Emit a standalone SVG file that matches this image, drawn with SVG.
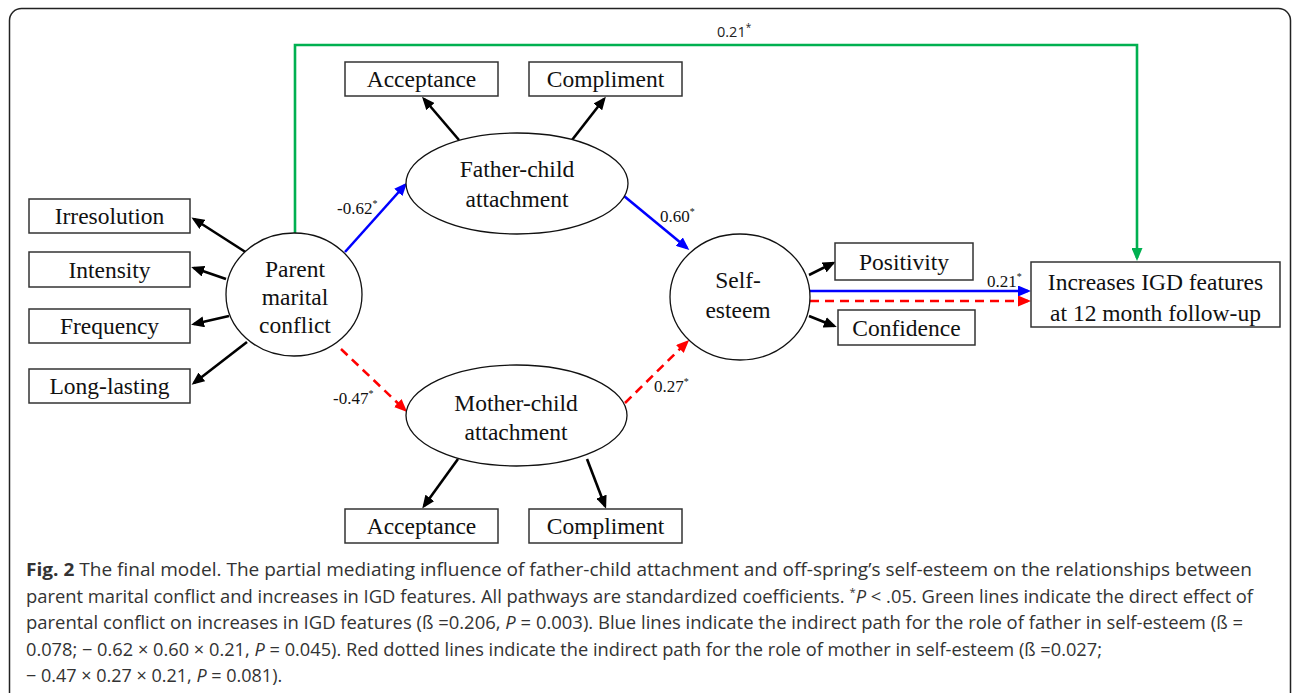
<svg xmlns="http://www.w3.org/2000/svg" width="1292" height="693" viewBox="0 0 1292 693">
<style>
.box{fill:#fff;stroke:#333;stroke-width:1.5}
.ell{fill:#fff;stroke:#111;stroke-width:1.3}
.lbl{font-family:"Liberation Serif","Times New Roman",serif;font-size:23.5px;fill:#111;text-anchor:middle}
.coef{font-family:"Liberation Serif","Times New Roman",serif;font-size:17px;fill:#111}
.sup{font-size:10px}
.k{stroke:#000;stroke-width:2.6;fill:none;marker-end:url(#ak)}
.b{stroke:#0000ff;stroke-width:2.6;fill:none;marker-end:url(#ab)}
.r{stroke:#ff0000;stroke-width:2.6;fill:none;stroke-dasharray:9 6;marker-end:url(#ar)}
.g{stroke:#00b050;stroke-width:2.6;fill:none;marker-end:url(#ag)}
.cap{font-family:"Open Sans","Noto Sans",sans-serif;font-size:18px;fill:#333}
</style>
<defs>
<marker id="ak" markerUnits="userSpaceOnUse" markerWidth="13" markerHeight="11" refX="10" refY="5.5" orient="auto"><path d="M0,0 L13,5.5 L0,11 z" fill="#000"/></marker>
<marker id="ab" markerUnits="userSpaceOnUse" markerWidth="13" markerHeight="11" refX="10" refY="5.5" orient="auto"><path d="M0,0 L13,5.5 L0,11 z" fill="#0000ff"/></marker>
<marker id="ar" markerUnits="userSpaceOnUse" markerWidth="13" markerHeight="11" refX="10" refY="5.5" orient="auto"><path d="M0,0 L13,5.5 L0,11 z" fill="#ff0000"/></marker>
<marker id="ag" markerUnits="userSpaceOnUse" markerWidth="13" markerHeight="11" refX="10" refY="5.5" orient="auto"><path d="M0,0 L13,5.5 L0,11 z" fill="#00b050"/></marker>
</defs>
<rect x="0" y="0" width="1292" height="693" fill="#fff"/>
<rect x="9.5" y="8.5" width="1281" height="720" rx="12" fill="none" stroke="#222" stroke-width="1.5"/>

<g id="connectors">
<path class="g" d="M295,233 V45 H1137 V258"/>
<line class="k" x1="459" y1="140" x2="424" y2="99"/>
<line class="k" x1="572" y1="140" x2="604" y2="99"/>
<line class="k" x1="247" y1="253" x2="194" y2="219"/>
<line class="k" x1="226" y1="279" x2="194" y2="268"/>
<line class="k" x1="229" y1="316" x2="194" y2="324"/>
<line class="k" x1="247" y1="342" x2="194" y2="383"/>
<line class="k" x1="458" y1="459" x2="424" y2="506"/>
<line class="k" x1="587" y1="459" x2="605" y2="506"/>
<line class="k" x1="809" y1="275" x2="833" y2="263"/>
<line class="k" x1="809" y1="316" x2="834" y2="326"/>
<line class="b" x1="345" y1="252" x2="405" y2="185"/>
<line class="b" x1="624" y1="196" x2="687" y2="248"/>
<line class="b" x1="810" y1="291" x2="1028" y2="291"/>
<line class="r" x1="341" y1="349" x2="405" y2="410"/>
<line class="r" x1="625" y1="403" x2="687" y2="342"/>
<line class="r" x1="810" y1="301" x2="1028" y2="301"/>
<text x="717" y="37" font-family="'Open Sans','Noto Sans',sans-serif" font-size="14.5" fill="#222">0.21<tspan class="sup" dy="-6" font-size="9">*</tspan></text>
<text class="coef" x="337" y="214">-0.62<tspan class="sup" dy="-7">*</tspan></text>
<text class="coef" x="660" y="222">0.60<tspan class="sup" dy="-7">*</tspan></text>
<text class="coef" x="333" y="404">-0.47<tspan class="sup" dy="-7">*</tspan></text>
<text class="coef" x="654" y="392">0.27<tspan class="sup" dy="-7">*</tspan></text>
<text class="coef" x="987" y="287">0.21<tspan class="sup" dy="-7">*</tspan></text>
</g>

<g id="acceptance-top"><rect class="box" x="345" y="62" width="153" height="34"/><text class="lbl" x="421.5" y="87">Acceptance</text></g>
<g id="compliment-top"><rect class="box" x="529" y="62" width="153" height="34"/><text class="lbl" x="605.5" y="87">Compliment</text></g>
<g id="father"><ellipse class="ell" cx="517" cy="183.5" rx="111" ry="50.5"/><text class="lbl" x="517" y="177">Father-child</text><text class="lbl" x="517" y="207">attachment</text></g>
<g id="irresolution"><rect class="box" x="29" y="199" width="161" height="34"/><text class="lbl" x="109.5" y="224">Irresolution</text></g>
<g id="intensity"><rect class="box" x="29" y="252" width="161" height="35"/><text class="lbl" x="109.5" y="277.5">Intensity</text></g>
<g id="frequency"><rect class="box" x="29" y="309" width="161" height="34"/><text class="lbl" x="109.5" y="334">Frequency</text></g>
<g id="long-lasting"><rect class="box" x="29" y="369" width="161" height="34"/><text class="lbl" x="109.5" y="394">Long-lasting</text></g>
<g id="parent"><ellipse class="ell" cx="294" cy="294.5" rx="68" ry="61.5"/><text class="lbl" x="295" y="277">Parent</text><text class="lbl" x="295" y="305">marital</text><text class="lbl" x="295" y="333">conflict</text></g>
<g id="mother"><ellipse class="ell" cx="516.5" cy="415.5" rx="110.5" ry="50.5"/><text class="lbl" x="516" y="411">Mother-child</text><text class="lbl" x="516" y="440">attachment</text></g>
<g id="acceptance-bottom"><rect class="box" x="345" y="509" width="153" height="34"/><text class="lbl" x="421.5" y="534">Acceptance</text></g>
<g id="compliment-bottom"><rect class="box" x="529" y="509" width="153" height="34"/><text class="lbl" x="605.5" y="534">Compliment</text></g>
<g id="self-esteem"><ellipse class="ell" cx="740" cy="297" rx="70" ry="63"/><text class="lbl" x="738" y="288">Self-</text><text class="lbl" x="738" y="318">esteem</text></g>
<g id="positivity"><rect class="box" x="835" y="243" width="138" height="37"/><text class="lbl" x="904" y="269.5">Positivity</text></g>
<g id="confidence"><rect class="box" x="838" y="310" width="137" height="35"/><text class="lbl" x="906.5" y="335.5">Confidence</text></g>
<g id="igd"><rect class="box" x="1031" y="262" width="249" height="65"/><text class="lbl" x="1155.5" y="290">Increases IGD features</text><text class="lbl" x="1155.5" y="321">at 12 month follow-up</text></g>

<g id="caption">
<text class="cap" x="26" y="576" textLength="1226" lengthAdjust="spacingAndGlyphs"><tspan font-weight="bold">Fig. 2</tspan> The final model. The partial mediating influence of father-child attachment and off-spring’s self-esteem on the relationships between</text>
<text class="cap" x="26" y="602.5" textLength="1227" lengthAdjust="spacingAndGlyphs">parent marital conflict and increases in IGD features. All pathways are standardized coefficients. <tspan font-size="11" dy="-7">*</tspan><tspan dy="7" font-style="italic">P</tspan> &lt; .05. Green lines indicate the direct effect of</text>
<text class="cap" x="26" y="629" textLength="1217" lengthAdjust="spacingAndGlyphs">parental conflict on increases in IGD features (ß =0.206, <tspan font-style="italic">P</tspan> = 0.003). Blue lines indicate the indirect path for the role of father in self-esteem (ß =</text>
<text class="cap" x="26" y="655.5" textLength="1076" lengthAdjust="spacingAndGlyphs">0.078; − 0.62 × 0.60 × 0.21, <tspan font-style="italic">P</tspan> = 0.045). Red dotted lines indicate the indirect path for the role of mother in self-esteem (ß =0.027;</text>
<text class="cap" x="26" y="682">− 0.47 × 0.27 × 0.21, <tspan font-style="italic">P</tspan> = 0.081).</text>
</g>
</svg>
